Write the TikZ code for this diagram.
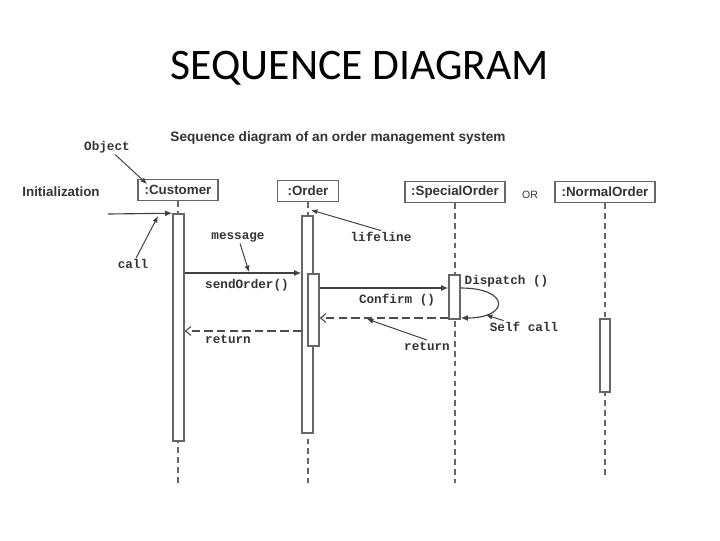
\documentclass[tikz,border=0pt]{standalone}
\usepackage{fontspec}
\newfontfamily\titlefont{Carlito}
\newfontfamily\boxfont{Liberation Sans}
\newfontfamily\notefont{Liberation Mono}
\usetikzlibrary{arrows.meta}
\colorlet{seqline}{black!60}
\colorlet{seqtext}{black!80}

\begin{document}
\begin{tikzpicture}[x=0.025cm,y=-0.025cm,
  objbox/.style={draw=seqline,line width=1.2pt,inner sep=0pt,minimum height=21*0.025cm,
    font=\boxfont\bfseries\fontsize{9.5}{11}\selectfont,text=seqtext},
  actbar/.style={draw=seqline,fill=white,line width=1.1pt,inner sep=0pt,minimum width=11*0.025cm},
  lifeline/.style={draw=seqline,line width=0.9pt,dash pattern=on 4pt off 3pt},
  msg/.style={draw=black!75,line width=0.8pt,-{Latex[length=1.8mm,width=1.5mm]}},
  reply/.style={draw=black!70,line width=0.8pt,dash pattern=on 6pt off 3pt,
    -{Straight Barb[length=1.3mm,width=2.2mm]}},
  note/.style={font=\notefont\bfseries\fontsize{9}{10}\selectfont,text=seqtext,inner sep=1pt},
  pointer/.style={draw=black!75,line width=0.7pt,-{Latex[length=1.6mm,width=1.3mm]}}]
  \useasboundingbox (0,0) rectangle (720,540);

  \node[font=\titlefont\fontsize{31}{36}\selectfont] (title) at (360,68) {SEQUENCE DIAGRAM};
  \node[font=\boxfont\bfseries\fontsize{9.7}{11}\selectfont,text=seqtext] (subtitle) at (338,138)
    {Sequence diagram of an order management system};

  % objects
  \node[objbox,minimum width=80*0.025cm] (customer) at (178,190) {:Customer};
  \node[objbox,minimum width=61*0.025cm] (order) at (308,191) {:Order};
  \node[objbox,minimum width=100*0.025cm] (special) at (455,192) {:SpecialOrder};
  \node[objbox,minimum width=100*0.025cm] (normal) at (605,192) {:NormalOrder};
  \node[font=\boxfont\fontsize{7.5}{9}\selectfont,text=seqtext] (orlbl) at (530,195) {OR};
  \node[font=\boxfont\bfseries\fontsize{9.5}{11}\selectfont,text=seqtext] (initlbl) at (61,192) {Initialization};

  % lifelines
  \coordinate (custend) at (178,483);
  \coordinate (ordend) at (308,483);
  \coordinate (specend) at (455,483);
  \coordinate (normend) at (605,477);
  \draw[lifeline] (customer) -- (custend);
  \draw[lifeline] (order) -- (ordend);
  \draw[lifeline] (special) -- (specend);
  \draw[lifeline] (normal) -- (normend);

  % activation bars
  \node[actbar,minimum height=227*0.025cm] (custact) at (178.5,327.5) {};
  \node[actbar,minimum height=217*0.025cm] (ordact) at (307.5,324.5) {};
  \node[actbar,minimum height=72*0.025cm] (ordin) at (313.5,310) {};
  \node[actbar,minimum height=44*0.025cm] (specact) at (454.5,297) {};
  \node[actbar,minimum width=10*0.025cm,minimum height=73*0.025cm] (normact) at (605,355.5) {};

  % messages
  \coordinate (rowsend) at (0,273);
  \coordinate (rowdispatch) at (0,288);
  \coordinate (rowconfirm) at (0,318);
  \coordinate (rowreturn) at (0,331);
  \coordinate (initstart) at (108,214);
  \draw[msg] (initstart) -- (custact.north west);
  \draw[msg] (custact.east |- rowsend) -- (ordact.west |- rowsend);
  \draw[msg] (ordin.east |- rowdispatch) -- (specact.west |- rowdispatch);
  \draw[msg] (specact.east |- rowdispatch) .. controls (510,288) and (510,318) .. (specact.east |- rowconfirm);
  \draw[reply] (specact.west |- rowconfirm) -- (ordin.east |- rowconfirm);
  \draw[reply] (ordact.west |- rowreturn) -- (custact.east |- rowreturn);

  \node[note] (sendlbl) at (247,285) {sendOrder()};
  \node[note] (confirmlbl) at (397,300) {Confirm ()};
  \node[note,anchor=west] (dispatchlbl) at (463,281) {Dispatch ()};
  \node[note] (retlbl) at (228,339) {return};
  \node[note] (ret2lbl) at (427,346) {return};
  \node[note] (selflbl) at (524,327) {Self call};

  % annotations
  \node[note] (objlbl) at (107,147) {Object};
  \node[note] (calllbl) at (133,264) {call};
  \node[note] (msglbl) at (238,237) {message};
  \node[note] (lifelbl) at (381,237) {lifeline};
  \coordinate (objtip) at (147,184);
  \coordinate (calltip) at (158,216);
  \coordinate (msgtip) at (249,272);
  \coordinate (lifetip) at (311,210);
  \coordinate (selftip) at (486,315);
  \coordinate (ret2tip) at (367,319);
  \draw[pointer] (objlbl) -- (objtip);
  \draw[pointer] (calllbl) -- (calltip);
  \draw[pointer] (msglbl) -- (msgtip);
  \draw[pointer] (lifelbl.north) -- (lifetip);
  \draw[pointer] (selflbl) -- (selftip);
  \draw[pointer] (ret2lbl.north) -- (ret2tip);
\end{tikzpicture}
\end{document}
